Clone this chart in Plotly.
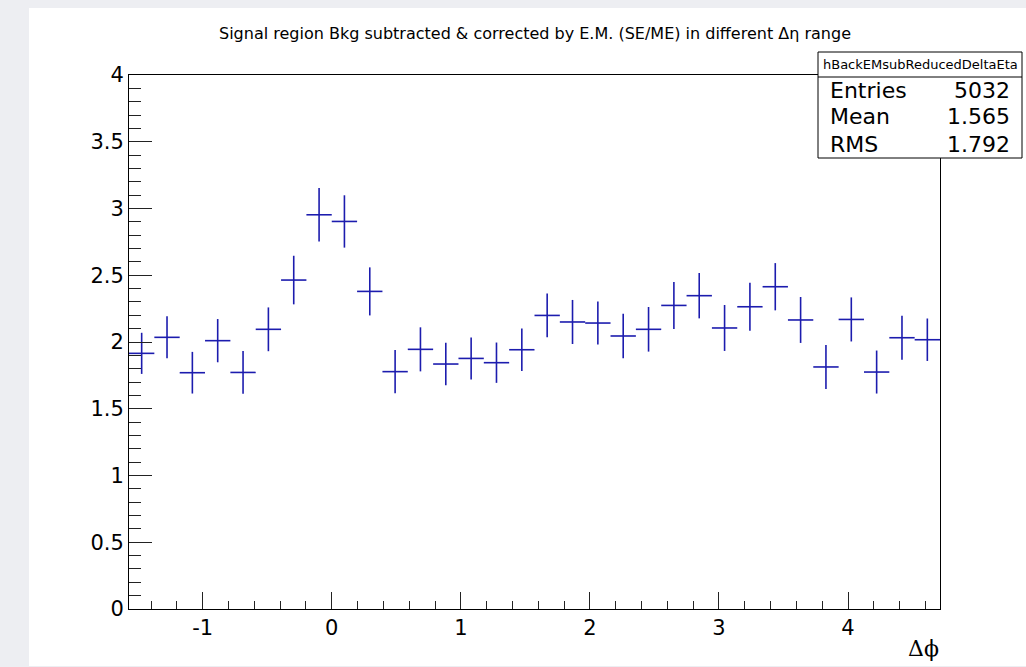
import numpy as np
import plotly.graph_objects as go

# Histogram binning: 32 bins over [-pi/2, 3pi/2]
n_bins = 32
phi_lo, phi_hi = -np.pi / 2, 3 * np.pi / 2

# Bin contents and their statistical errors
bin_values = [1.915, 2.035, 1.770, 2.010, 1.772, 2.095, 2.464, 2.953,
              2.903, 2.379, 1.778, 1.945, 1.835, 1.877, 1.845, 1.942,
              2.199, 2.150, 2.142, 2.045, 2.095, 2.274, 2.347, 2.105,
              2.264, 2.414, 2.165, 1.813, 2.169, 1.775, 2.032, 2.017]
bin_errors = [0.154, 0.157, 0.156, 0.162, 0.160, 0.164, 0.182, 0.200,
              0.196, 0.180, 0.162, 0.165, 0.159, 0.157, 0.151, 0.160,
              0.164, 0.165, 0.161, 0.166, 0.167, 0.176, 0.170, 0.172,
              0.180, 0.177, 0.172, 0.165, 0.165, 0.161, 0.165, 0.159]

x_ticks = [-1, 0, 1, 2, 3, 4]
x_tick_text = ["-1", "0", "1", "2", "3", "4"]
y_ticks = [0, 0.5, 1, 1.5, 2, 2.5, 3, 3.5, 4]
y_tick_text = ["0", "0.5", "1", "1.5", "2", "2.5", "3", "3.5", "4"]

stats_name = "hBackEMsubReducedDeltaEta"
stats_labels = ["Entries", "Mean", "RMS"]
stats_values = ["5032", "1.565", "1.792"]

title_text = "Signal region Bkg subtracted & corrected by E.M. (SE/ME) in different \u0394\u03b7 range"
x_title = "\u0394\u03d5"

edges = np.linspace(phi_lo, phi_hi, n_bins + 1)
centers = 0.5 * (edges[:-1] + edges[1:])
half_width = 0.5 * (edges[1] - edges[0])

W, H = 1026, 667
L, R, T, B = 129, 940, 75, 609  # plot frame in pixels


def px(x):
    return (x - L) / (R - L)


def py(y):
    return (B - y) / (B - T)


blue = "#1c1cae"

fig = go.Figure()
fig.add_trace(go.Scatter(
    x=centers, y=bin_values, mode="markers",
    marker=dict(size=0.1, color=blue),
    error_y=dict(type="data", array=bin_errors, visible=True,
                 color=blue, thickness=1.6, width=0),
    error_x=dict(type="constant", value=half_width, visible=True,
                 color=blue, thickness=1.6, width=0),
    showlegend=False, hoverinfo="skip",
))

axis_common = dict(
    showline=True, linecolor="black", linewidth=1, mirror=True,
    showgrid=False, zeroline=False, ticks="inside", tickcolor="#222",
    tickwidth=1, tickfont=dict(family="DejaVu Sans", size=21, color="black"),
)

fig.update_xaxes(
    range=[phi_lo, phi_hi], tickmode="array", tickvals=x_ticks,
    ticktext=x_tick_text, ticklen=17,
    minor=dict(ticks="inside", ticklen=8, dtick=0.2, tick0=0,
               tickcolor="#222", tickwidth=1),
    **axis_common,
)
fig.update_yaxes(
    range=[0, 4], tickmode="array", tickvals=y_ticks, ticktext=y_tick_text,
    ticklen=23,
    minor=dict(ticks="inside", ticklen=12, dtick=0.1, tick0=0,
               tickcolor="#222", tickwidth=1),
    **axis_common,
)

shapes = [
    # white canvas on a light grey surround
    dict(type="rect", xref="paper", yref="paper",
         x0=px(29), x1=px(1030), y0=py(666), y1=py(8),
         fillcolor="white", line=dict(width=0), layer="below"),
    # statistics box
    dict(type="rect", xref="paper", yref="paper",
         x0=px(818), x1=px(1022), y0=py(158), y1=py(52),
         fillcolor="white", line=dict(color="black", width=1), layer="above"),
    dict(type="line", xref="paper", yref="paper",
         x0=px(818), x1=px(1022), y0=py(77), y1=py(77),
         line=dict(color="black", width=1), layer="above"),
]

annotations = [
    dict(text=stats_name, xref="paper", yref="paper",
         x=px(920), y=py(65), xanchor="center", yanchor="middle",
         showarrow=False, font=dict(family="DejaVu Sans", size=13, color="black")),
    dict(text=x_title, xref="paper", yref="paper",
         x=px(941), y=py(648), xanchor="right", yanchor="middle",
         showarrow=False, font=dict(family="DejaVu Serif", size=22, color="black")),
]
row_y = [91, 117, 144]
for lab, val, yy in zip(stats_labels, stats_values, row_y):
    annotations.append(dict(text=lab, xref="paper", yref="paper",
                            x=px(828), y=py(yy), xanchor="left", yanchor="middle",
                            showarrow=False,
                            font=dict(family="DejaVu Sans", size=22, color="black")))
    annotations.append(dict(text=val, xref="paper", yref="paper",
                            x=px(1012), y=py(yy), xanchor="right", yanchor="middle",
                            showarrow=False,
                            font=dict(family="DejaVu Sans", size=22, color="black")))

fig.update_layout(
    width=W, height=H,
    margin=dict(l=L, r=W - R, t=T, b=H - B),
    paper_bgcolor="#edeef2", plot_bgcolor="white",
    font=dict(family="DejaVu Sans", color="black"),
    title=dict(text=title_text, x=px(535), xref="paper", xanchor="center",
               y=1 - 33 / H, yref="container", yanchor="middle",
               font=dict(family="DejaVu Sans", size=16, color="black")),
    shapes=shapes, annotations=annotations,
)

fig.write_html("out.html")
